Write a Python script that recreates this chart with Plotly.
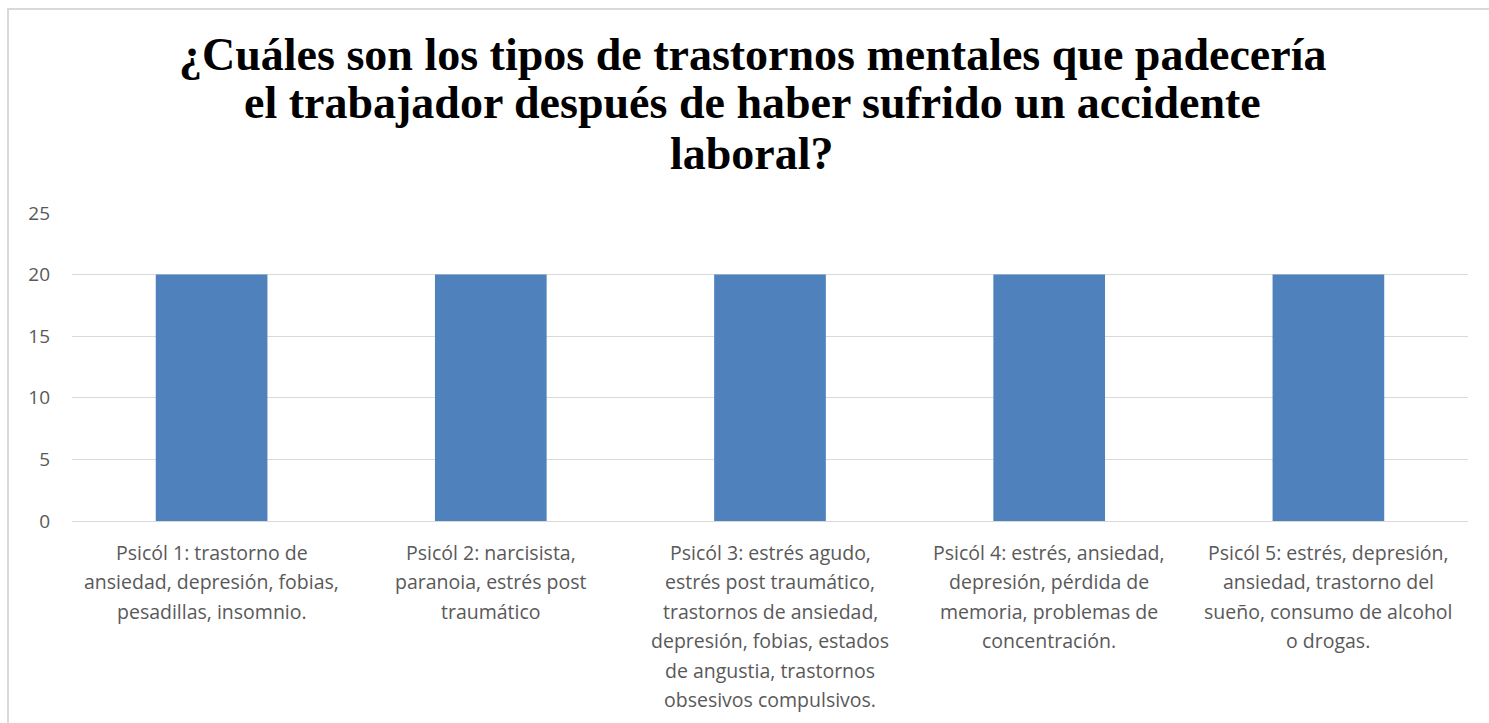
import plotly.graph_objects as go

# Category labels (line breaks as shown under each bar)
categories = [
    "Psicól 1: trastorno de<br>ansiedad, depresión, fobias,<br>pesadillas, insomnio.",
    "Psicól 2: narcisista,<br>paranoia, estrés post<br>traumático",
    "Psicól 3: estrés agudo,<br>estrés post traumático,<br>trastornos de ansiedad,<br>depresión, fobias, estados<br>de angustia, trastornos<br>obsesivos compulsivos.",
    "Psicól 4: estrés, ansiedad,<br>depresión, pérdida de<br>memoria, problemas de<br>concentración.",
    "Psicól 5: estrés, depresión,<br>ansiedad, trastorno del<br>sueño, consumo de alcohol<br>o drogas.",
]
values = [20, 20, 20, 20, 20]
y_ticks = [0, 5, 10, 15, 20, 25]

title_lines = [
    "¿Cuáles son los tipos de trastornos mentales que padecería",
    "el trabajador después de haber sufrido un accidente",
    "laboral?",
]

fig = go.Figure(go.Bar(
    x=categories,
    y=values,
    marker=dict(color="#4f81bd", line=dict(width=0)),
    width=0.4,
))

PLOT_L, PLOT_R, PLOT_T, PLOT_B = 72, 1468, 213, 521
PW, PH = PLOT_R - PLOT_L, PLOT_B - PLOT_T

fig.update_layout(
    width=1489,
    height=723,
    margin=dict(l=PLOT_L, r=1489 - PLOT_R, t=PLOT_T, b=723 - PLOT_B),
    paper_bgcolor="white",
    plot_bgcolor="white",
    showlegend=False,
    font=dict(family="Open Sans", color="#595959"),
    bargap=0.6,
)

# Chart title: one annotation per line so the line spacing can be set directly
baselines = [69, 118, 168]
for line, base in zip(title_lines, baselines):
    fig.add_annotation(
        text=line,
        xref="paper", yref="paper",
        x=(752 - PLOT_L) / PW, y=(PLOT_B - (base - 15)) / PH,
        xanchor="center", yanchor="middle",
        showarrow=False,
        font=dict(family="Liberation Serif", size=46, color="#000000", weight="bold"),
    )

# Category labels under the bars, one line at a time with a fixed line pitch
LABEL_TOP, LABEL_PITCH = 552, 29.5
for cat in categories:
    for i, part in enumerate(cat.split("<br>")):
        fig.add_annotation(
            text=part,
            xref="x", yref="paper",
            x=cat, y=(PLOT_B - (LABEL_TOP + LABEL_PITCH * i)) / PH,
            xanchor="center", yanchor="middle",
            showarrow=False,
            font=dict(family="Open Sans", size=19.5, color="#595959"),
        )

fig.update_xaxes(
    showgrid=False,
    showline=True,
    linecolor="#d9d9d9",
    linewidth=1,
    showticklabels=False,
    ticks="",
)
fig.update_yaxes(
    range=[0, 25],
    tickvals=y_ticks,
    showgrid=True,
    gridcolor="#d9d9d9",
    gridwidth=1,
    zeroline=False,
    showline=False,
    tickfont=dict(family="Open Sans", size=19, color="#595959"),
    ticklabelstandoff=21,
)

# Chart frame (light grey border around the whole chart area)
fig.add_shape(
    type="rect", xref="paper", yref="paper",
    x0=(8 - PLOT_L) / PW, x1=1.1,
    y0=-0.7, y1=(PLOT_B - 9) / PH,
    line=dict(color="#d9d9d9", width=2),
    fillcolor="rgba(0,0,0,0)",
    layer="below",
)

fig.write_html("out.html")
